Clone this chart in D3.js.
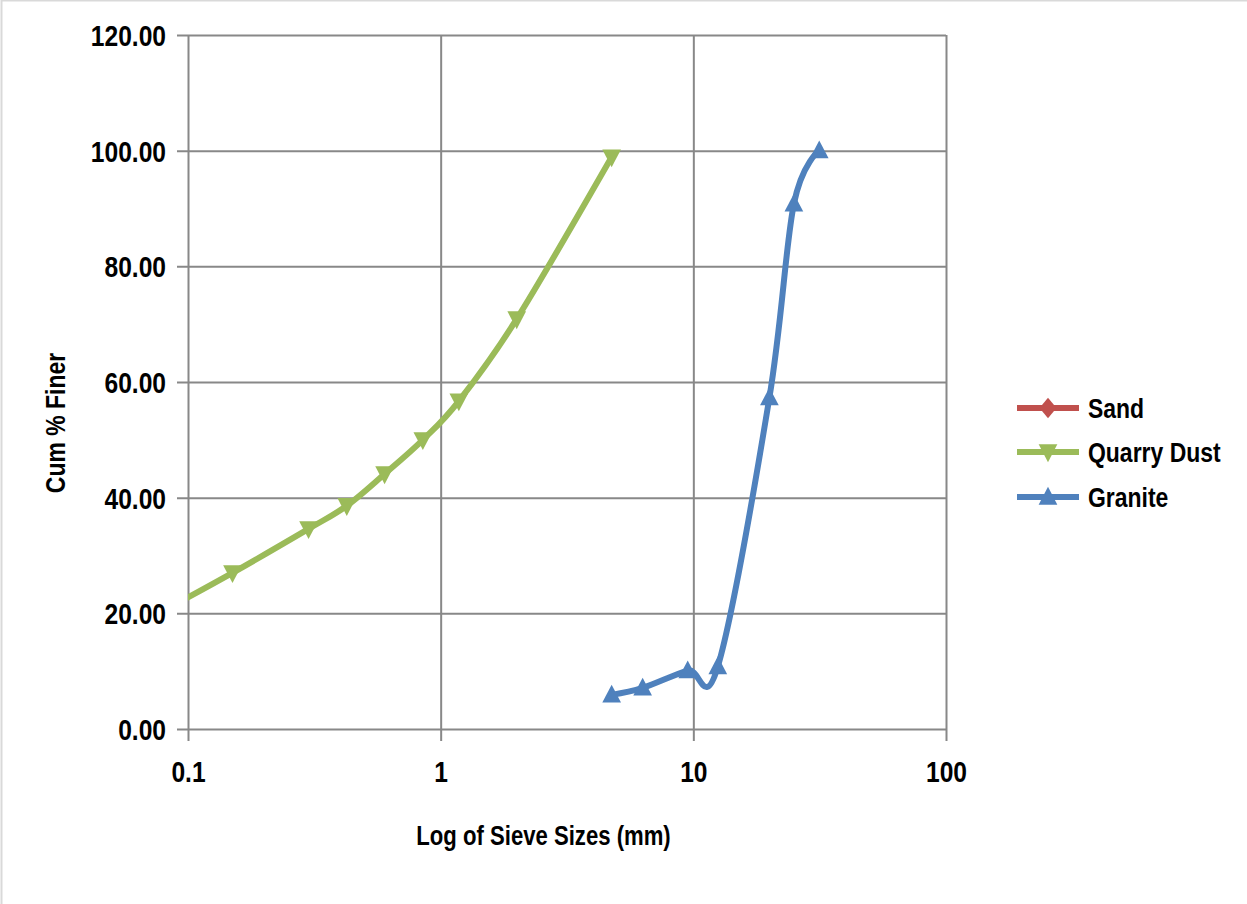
<!DOCTYPE html>
<html>
<head>
<meta charset="utf-8">
<script src="https://cdn.jsdelivr.net/npm/d3@7"></script>
<style>
  html, body { margin: 0; padding: 0; background: #fff; }
  svg { display: block; }
  text { font-family: "Liberation Sans", Arial, sans-serif; font-weight: bold; fill: #000; }
</style>
</head>
<body>
<svg id="chart" width="1247" height="904"></svg>
<script>
// Sieve sizes (mm) and cumulative % passing for each material
const sandSizes = [];
const sandFiner = [];
const dustSizes = [0.075, 0.15, 0.3, 0.425, 0.6, 0.85, 1.18, 2.0, 4.75];
const dustFiner = [19.8, 27.0, 34.6, 38.6, 44.1, 50.0, 56.7, 70.9, 98.9];
const graniteSizes = [4.75, 6.3, 9.5, 12.5, 20, 25, 31.5];
const graniteFiner = [5.9, 7.1, 10.1, 10.8, 57.3, 90.8, 100.0];

const xTicks = [0.1, 1, 10, 100];
const xTickLabels = ["0.1", "1", "10", "100"];
const yTicks = [0, 20, 40, 60, 80, 100, 120];

const seriesNames = ["Sand", "Quarry Dust", "Granite"];
const seriesColors = ["#C0504D", "#9BBB59", "#4F81BD"];
const seriesSymbols = ["diamond", "down", "up"];

const svg = d3.select("#chart");
const W = 1247, H = 904;
const plot = { left: 188, right: 946, top: 35, bottom: 729 };
const K = 0.82; // horizontal squeeze for condensed lettering

// place a text at (px, py) with an optional rotation, squeezed horizontally
function placeText(sel, px, py, rot = 0) {
  sel.attr("x", 0).attr("y", 0).attr("dy", null)
    .attr("transform", `translate(${px},${py})${rot ? ` rotate(${rot})` : ""} scale(${K},1)`);
}

// outer chart frame
svg.append("rect")
  .attr("x", 1.5).attr("y", 0.5)
  .attr("width", W + 10).attr("height", H + 10)
  .attr("fill", "#fff").attr("stroke", "#d9d9d9").attr("stroke-width", 2);

const x = d3.scaleLog().domain([0.1, 100]).range([plot.left, plot.right]);
const y = d3.scaleLinear().domain([0, 120]).range([plot.bottom, plot.top]);

const gridColor = "#888888";

// horizontal gridlines + y axis
const yAxis = d3.axisLeft(y)
  .tickValues(yTicks)
  .tickSize(-(plot.right - plot.left))
  .tickSizeOuter(0)
  .tickFormat(d => d3.format(".2f")(d));
const gy = svg.append("g").attr("transform", `translate(${plot.left},0)`).call(yAxis);
gy.select(".domain").remove();
gy.selectAll(".tick line").attr("stroke", gridColor).attr("stroke-width", 2).attr("x1", -11);
gy.selectAll(".tick text")
  .style("font-size", "30px")
  .call(placeText, -22, 10.5);

// vertical gridlines + x axis
const xAxis = d3.axisBottom(x)
  .tickValues(xTicks)
  .tickSize(-(plot.bottom - plot.top))
  .tickSizeOuter(0)
  .tickFormat((d, i) => xTickLabels[i]);
const gx = svg.append("g").attr("transform", `translate(0,${plot.bottom})`).call(xAxis);
gx.select(".domain").remove();
gx.selectAll(".tick line").attr("stroke", gridColor).attr("stroke-width", 2).attr("y1", 12);
gx.selectAll(".tick text")
  .style("font-size", "30px")
  .call(placeText, 0, 53);

// axis titles
svg.append("text")
  .attr("text-anchor", "middle")
  .style("font-size", "27px")
  .text("Log of Sieve Sizes (mm)")
  .call(placeText, 543.5, 845);

svg.append("text")
  .attr("text-anchor", "middle")
  .style("font-size", "28px")
  .text("Cum % Finer")
  .call(placeText, 65, 423, -90);

// clip to plot area
svg.append("clipPath").attr("id", "plotClip")
  .append("rect")
  .attr("x", plot.left).attr("y", plot.top - 20)
  .attr("width", plot.right - plot.left).attr("height", plot.bottom - plot.top + 20);

const symbolPath = (type, s) => {
  if (type === "up") return `M0,${-s * 0.6}L${s * 0.55},${s * 0.45}L${-s * 0.55},${s * 0.45}Z`;
  if (type === "down") return `M0,${s * 0.6}L${s * 0.55},${-s * 0.45}L${-s * 0.55},${-s * 0.45}Z`;
  return `M0,${-s * 0.6}L${s * 0.5},0L0,${s * 0.6}L${-s * 0.5},0Z`;
};

const line = d3.line()
  .x(d => x(d[0]))
  .y(d => y(d[1]))
  .curve(d3.curveCardinal.tension(0));

const series = [
  { sizes: sandSizes, finer: sandFiner },
  { sizes: dustSizes, finer: dustFiner },
  { sizes: graniteSizes, finer: graniteFiner }
];

const plotG = svg.append("g").attr("clip-path", "url(#plotClip)");
series.forEach((s, i) => {
  const pts = s.sizes.map((v, j) => [v, s.finer[j]]);
  if (!pts.length) return;
  const g = plotG.append("g");
  g.append("path")
    .datum(pts)
    .attr("d", line)
    .attr("fill", "none")
    .attr("stroke", seriesColors[i])
    .attr("stroke-width", 6)
    .attr("stroke-linejoin", "round");
  g.selectAll("path.mk")
    .data(pts)
    .join("path")
    .attr("class", "mk")
    .attr("transform", d => `translate(${x(d[0])},${y(d[1])})`)
    .attr("d", symbolPath(seriesSymbols[i], 17))
    .attr("fill", seriesColors[i]);
});

// legend
const legend = svg.append("g");
const legendRows = [408, 452, 497];
seriesNames.forEach((name, i) => {
  const ly = legendRows[i];
  legend.append("line")
    .attr("x1", 1017).attr("x2", 1079)
    .attr("y1", ly).attr("y2", ly)
    .attr("stroke", seriesColors[i]).attr("stroke-width", 6);
  legend.append("path")
    .attr("transform", `translate(1048,${ly})`)
    .attr("d", symbolPath(seriesSymbols[i], 17))
    .attr("fill", seriesColors[i]);
  legend.append("text")
    .style("font-size", "28px")
    .text(name)
    .call(placeText, 1088, ly + 10);
});
</script>
</body>
</html>
